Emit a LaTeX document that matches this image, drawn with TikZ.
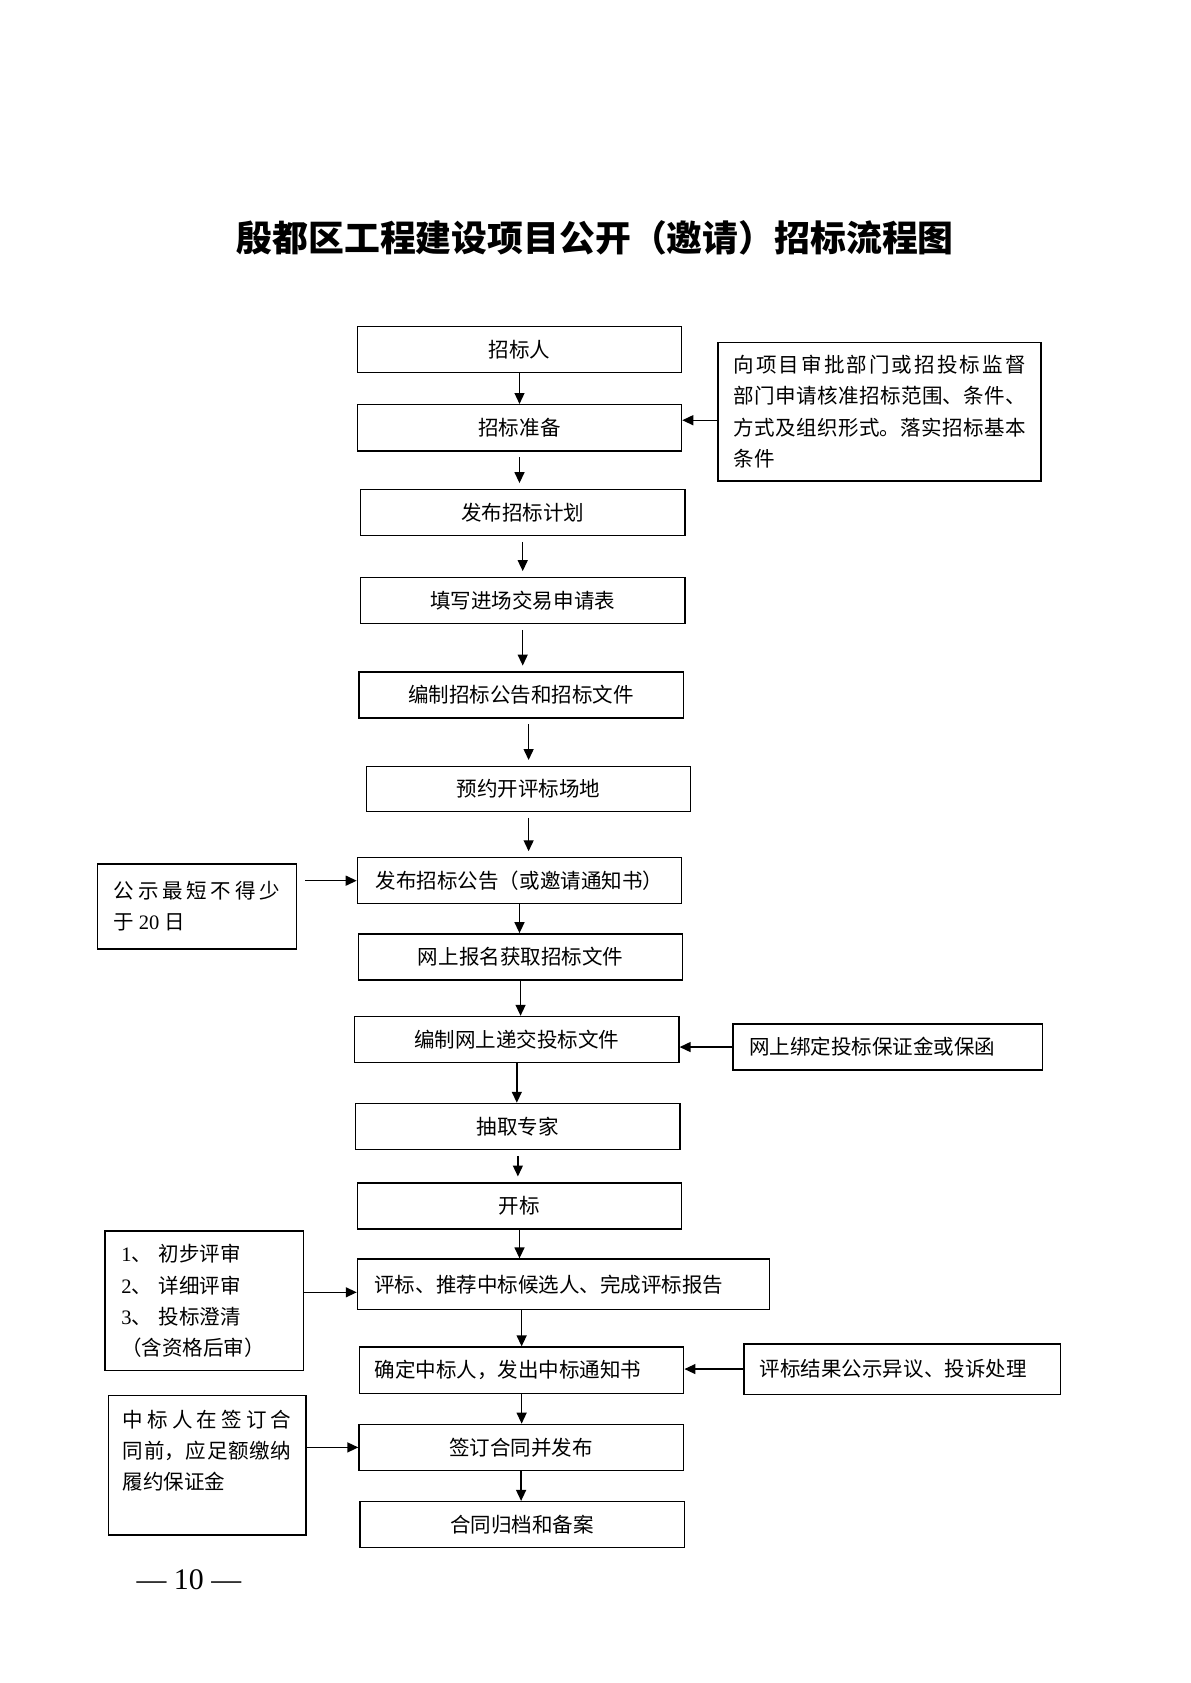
\documentclass[tikz,border=0pt]{standalone}
\usepackage{fontspec}
\setmainfont{Liberation Serif}
\newfontfamily\cjk{Noto Sans CJK SC}
\usetikzlibrary{arrows.meta, calc}
\XeTeXlinebreaklocale "zh"
\XeTeXlinebreakskip = 0pt plus 2pt
\setlength{\parindent}{0pt}
\tikzset{
  stepbox/.style={draw, line width=0.7pt, minimum width=5.72cm, minimum height=0.814cm,
      inner sep=0pt, align=center, font=\cjk\fontsize{10.3}{15.6}\selectfont},
  notebox/.style={draw, line width=0.7pt, inner sep=0pt, align=justify,
      font=\cjk\fontsize{10.3}{15.6}\selectfont},
  flow/.style={-{Triangle[length=5.5pt, width=5pt]}, line width=0.7pt},
  gapflow/.style={flow, shorten <=0.1cm, shorten >=0.1cm},
  titlelbl/.style={font=\cjk\bfseries\fontsize{18}{22}\selectfont},
}

\begin{document}
\begin{tikzpicture}[x=0.018936cm, y=-0.018936cm]
  \useasboundingbox (0,0) rectangle (1109,1568);
  \node[titlelbl] (ttl) at (554.5,222) {殷都区工程建设项目公开（邀请）招标流程图};

  % main column
  \node[stepbox] (zbr) at (484,325.5) {招标人};
  \node[stepbox] (zbzb) at (484,398.5) {招标准备};
  \node[stepbox] (fbjh) at (487,477.5) {发布招标计划};
  \node[stepbox] (txsq) at (487,559.5) {填写进场交易申请表};
  \node[stepbox] (bzgg) at (485.5,647.5) {编制招标公告和招标文件};
  \node[stepbox, minimum height=0.795cm] (yycd) at (492.5,735) {预约开评标场地};
  \node[stepbox] (fbgg) at (484,820.5) {发布招标公告（或邀请通知书）};
  \node[stepbox] (wsbm) at (485,891.5) {网上报名获取招标文件};
  \node[stepbox] (bzts) at (481.5,968.5) {编制网上递交投标文件};
  \node[stepbox] (cqzj) at (482.5,1049.5) {抽取专家};
  \node[stepbox] (kb) at (484,1123.5) {开标};
  \node[stepbox, minimum width=7.271cm, minimum height=0.89cm, text width=6.67cm, align=left] (pb) at (525,1196.5) {评标、推荐中标候选人、完成评标报告};
  \node[stepbox, text width=5.19cm, align=left] (qd) at (486,1276.5) {确定中标人，发出中标通知书};
  \node[stepbox] (qdht) at (485.5,1348.5) {签订合同并发布};
  \node[stepbox] (gd) at (486.5,1420.5) {合同归档和备案};

  % side notes
  \node[notebox, minimum width=5.70cm, minimum height=2.443cm, text width=5.151cm] (sqhz) at (819.5,383.5) {向项目审批部门或招投标监督\linebreak 部门申请核准招标范围、条件、\linebreak 方式及组织形式。落实招标基本\linebreak 条件};
  \node[notebox, minimum width=3.503cm, minimum height=1.496cm, text width=2.935cm] (gsbx) at (183.5,844.5) {公示最短不得少\linebreak 于 {\rmfamily 20} 日};
  \node[notebox, minimum width=5.454cm, minimum height=0.814cm, text width=4.885cm, align=left] (bzj) at (827,975.5) {网上绑定投标保证金或保函};
  \node[notebox, minimum width=3.503cm, minimum height=2.462cm, text width=2.935cm, align=left] (psbx) at (190.5,1212) {{\rmfamily 1}、 初步评审\\{\rmfamily 2}、 详细评审\\{\rmfamily 3}、 投标澄清\\（含资格后审）};
  \node[notebox, minimum width=5.586cm, minimum height=0.89cm, text width=5.02cm, align=left] (yy) at (840.5,1275.5) {评标结果公示异议、投诉处理};
  \node[notebox, minimum width=3.484cm, minimum height=2.462cm, text width=2.973cm] (lybx) at (193,1365) {中标人在签订合\linebreak 同前，应足额缴纳\linebreak 履约保证金\par\mbox{}};

  \node[font=\fontsize{15}{18}\selectfont] (pgno) at (176,1472) {— 10 —};

  % connectors
  \draw[flow] (zbr) -- (zbzb);
  \draw[gapflow] (zbzb.south) -- (zbzb.south |- fbjh.north);
  \draw[gapflow] (fbjh.south) -- (fbjh.south |- txsq.north);
  \draw[gapflow] (txsq.south) -- (txsq.south |- bzgg.north);
  \draw[gapflow] (yycd.north |- bzgg.south) -- (yycd.north);
  \draw[gapflow] (yycd.south) -- (yycd.south |- fbgg.north);
  \draw[flow] (fbgg.south) -- (fbgg.south |- wsbm.north);
  \draw[flow] (wsbm.south) -- (wsbm.south |- bzts.north);
  \draw[flow] (bzts.south) -- (bzts.south |- cqzj.north);
  \draw[gapflow] (cqzj.south) -- (cqzj.south |- kb.north);
  \draw[flow] (kb.south) -- (kb.south |- pb.north);
  \draw[flow] (qd.north |- pb.south) -- (qd.north);
  \draw[flow] (qd.south) -- (qd.south |- qdht.north);
  \draw[flow] (qdht.south) -- (qdht.south |- gd.north);

  \coordinate (zbzbin) at ($(zbzb.east)+(0,-7)$);
  \draw[flow] (sqhz.west |- zbzbin) -- (zbzbin);
  \draw[flow, shorten <=0.15cm] (gsbx.east |- fbgg.west) -- (fbgg.west);
  \draw[flow] (bzj.west) -- (bzj.west -| bzts.east);
  \coordinate (pbin) at ($(pb.west)+(0,7.5)$);
  \draw[flow] (psbx.east |- pbin) -- (pbin);
  \draw[flow] (yy.west) -- (yy.west -| qd.east);
  \draw[flow] (lybx.east |- qdht.west) -- (qdht.west);
\end{tikzpicture}
\end{document}
